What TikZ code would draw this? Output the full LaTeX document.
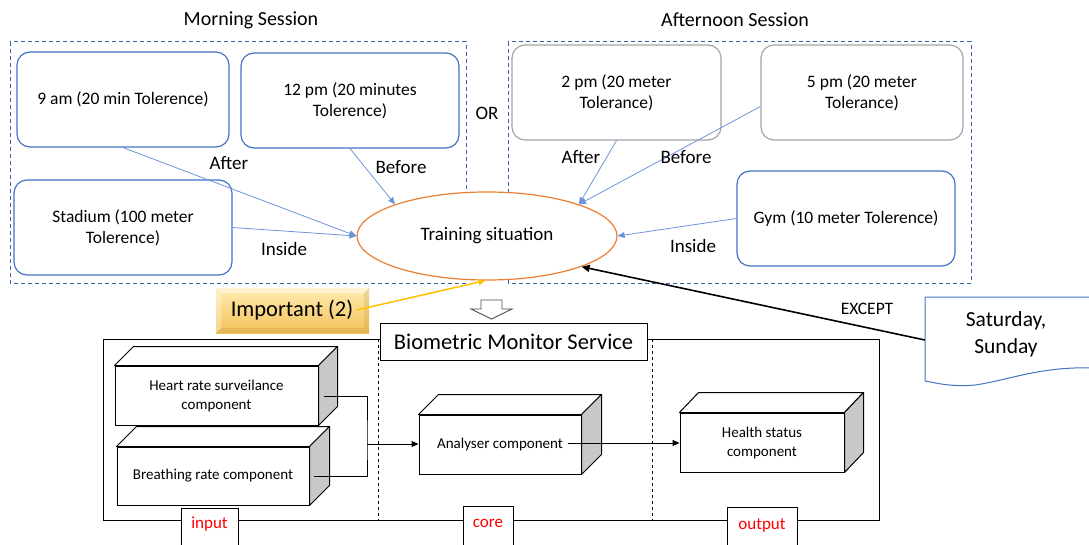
\documentclass[tikz,border=0pt]{standalone}
\usepackage{fontspec}
\setmainfont{Carlito}
\usetikzlibrary{arrows.meta,calc,shapes.geometric}
\definecolor{obl}{HTML}{4472C4}
\definecolor{lbl}{HTML}{6E95DA}
\definecolor{dbl}{HTML}{3A62A8}
\definecolor{ogr}{HTML}{A5A5A5}
\definecolor{oor}{HTML}{ED7D31}
\definecolor{ogold}{HTML}{FFC000}
\definecolor{imptop}{HTML}{FFEBB0}
\definecolor{impbot}{HTML}{F4C25A}
\definecolor{sidegray}{HTML}{C8C8C8}
\tikzset{
  fsTitle/.style={font=\fontsize{20}{24}\selectfont},
  fsBox/.style={font=\fontsize{17.5}{21}\selectfont},
  fsLbl/.style={font=\fontsize{19}{23}\selectfont},
  fsComp/.style={font=\fontsize{15}{19}\selectfont},
  fsBig/.style={font=\fontsize{22.5}{27}\selectfont},
  session/.style={draw=dbl, line width=1pt, dash pattern=on 4pt off 3pt},
  rbox/.style={draw=obl, line width=1.2pt, rounded corners=13pt, align=center, fsBox, inner sep=0pt},
  gbox/.style={draw=ogr, line width=1.2pt, rounded corners=13pt, align=center, fsBox, inner sep=0pt},
  barrow/.style={draw=lbl, line width=0.8pt, -{Triangle[length=7pt,width=6pt]}},
  front/.style={draw, line width=1pt, fill=white, align=center, fsComp, inner sep=0pt},
  face/.style={draw, line width=1pt, line join=round},
  karrow/.style={line width=1pt, -{Triangle[length=7pt,width=6pt]}},
  tagbox/.style={draw, line width=1pt, fill=white, inner sep=0pt},
  tagtext/.style={text=red, font=\fontsize{17}{20}\selectfont, inner sep=0pt}
}
\begin{document}
\begin{tikzpicture}[x=1pt,y=-1pt]
\useasboundingbox (0,0) rectangle (1089,545);
\fill[white] (0,0) rectangle (1089,545);

% session titles and frames
\node[fsTitle] (mt) at (251,20) {Morning Session};
\node[fsTitle] (at) at (735,20) {Afternoon Session};
\draw[session] (10,42) rectangle (466,283);
\draw[session] (508,42) rectangle (971,283);
\node[fsLbl] (or) at (487,113) {OR};

% morning boxes
\node[rbox, minimum width=212pt, minimum height=95pt] (am9) at (123,99.5) {9 am (20 min Tolerence)};
\node[rbox, minimum width=218pt, minimum height=95pt] (pm12) at (350,100.5) {12 pm (20 minutes\\Tolerence)};
\node[rbox, minimum width=218pt, minimum height=95pt] (st) at (123,227.5) {Stadium (100 meter\\Tolerence)};

% afternoon boxes
\node[gbox, minimum width=209pt, minimum height=95pt] (pm2) at (616.5,92.5) {2 pm (20 meter\\Tolerance)};
\node[gbox, minimum width=202pt, minimum height=95pt] (pm5) at (862,92.5) {5 pm (20 meter\\Tolerance)};
\node[rbox, minimum width=218pt, minimum height=95pt] (gym) at (846,218.5) {Gym (10 meter Tolerence)};

% training situation
\node[ellipse, draw=oor, fill=white, line width=1.2pt, minimum width=260pt, minimum height=88pt, inner sep=0pt, fsLbl] (ts) at (487,236) {Training situation};

% blue connectors
\draw[barrow] (am9.south) -- (ts.west);
\draw[barrow] (st.east) -- (ts.west);
\draw[barrow] (pm12.south) -- (ts.161);
\draw[barrow] (pm2.south) -- (ts.19);
\draw[barrow] ($(pm5.west)+(0,14)$) -- (ts.19);
\draw[barrow] (gym.west) -- (ts.east);

\node[fsLbl] (lafter1) at (229,163) {After};
\node[fsLbl] (lbefore1) at (401,167) {Before};
\node[fsLbl] (linside1) at (284,249) {Inside};
\node[fsLbl] (lafter2) at (581,157) {After};
\node[fsLbl] (lbefore2) at (686,157) {Before};
\node[fsLbl] (linside2) at (693,246) {Inside};

% Saturday, Sunday document shape
\node[minimum width=168pt, minimum height=86pt, inner sep=0pt] (sat) at (1009,340) {};
\draw[draw=obl, line width=1pt, fill=white] (925,297) -- (1095,297) -- (1095,368) .. controls (1040,366) and (1010,380) .. (975,385) .. controls (955,387) and (940,384) .. (925,381) -- cycle;
\node[align=center, font=\fontsize{21.5}{27}\selectfont] (satt) at (1006,334) {Saturday,\\Sunday};
\draw[line width=1.6pt, -{Triangle[length=8pt,width=7pt]}] (sat.west) -- (ts.-18);
\node[font=\fontsize{17.5}{21}\selectfont] (exc) at (867,309) {EXCEPT};

% Important (2)
\shade[top color=imptop, bottom color=impbot] (216,288) rectangle (369,333);
\fill[white, opacity=0.45] (216,288) -- (369,288) -- (364,293) -- (221,293) -- cycle;
\fill[impbot!80!black, opacity=0.35] (216,333) -- (369,333) -- (364,328) -- (221,328) -- cycle;
\fill[impbot!80!black, opacity=0.25] (369,288) -- (369,333) -- (364,328) -- (364,293) -- cycle;
\fill[white, opacity=0.3] (216,288) -- (216,333) -- (221,328) -- (221,293) -- cycle;
\node[fsBig] (imp) at (292,310) {Important (2)};
\draw[draw=ogold, line width=1.5pt, -{Triangle[length=7pt,width=6pt]}] (imp.east) -- (ts.-92);

% hollow down arrow
\draw[draw=black!70, line width=0.9pt, fill=white, line join=miter] (481,300) -- (502,300) -- (502,309) -- (512,309) -- (491.5,319) -- (471,309) -- (481,309) -- cycle;

% Biometric Monitor Service frame
\draw[line width=1pt] (103,339) rectangle (879,520);
\draw[line width=0.9pt, dashed] (378,339) -- (378,520);
\draw[line width=0.9pt, dashed] (652,339) -- (652,520);
\node[draw, line width=1pt, fill=white, minimum width=267pt, minimum height=37pt, inner sep=0pt, fsBig] (bms) at (513.5,341.5) {Biometric Monitor Service};

% 3D component boxes
\node[front, minimum width=203pt, minimum height=59pt] (hr) at (216.5,395.5) {Heart rate surveilance\\component};
\draw[face, fill=white] (hr.north west) -- ++(19,-19) -- ($(hr.north east)+(19,-19)$) -- (hr.north east) -- cycle;
\draw[face, fill=sidegray] (hr.north east) -- ++(19,-19) -- ($(hr.south east)+(19,-19)$) -- (hr.south east) -- cycle;

\node[front, minimum width=192pt, minimum height=58pt] (br) at (213,476) {Breathing rate component};
\draw[face, fill=white] (br.north west) -- ++(20,-20) -- ($(br.north east)+(20,-20)$) -- (br.north east) -- cycle;
\draw[face, fill=sidegray] (br.north east) -- ++(20,-20) -- ($(br.south east)+(20,-20)$) -- (br.south east) -- cycle;

\node[front, minimum width=162pt, minimum height=59pt] (an) at (500,444.5) {Analyser component};
\draw[face, fill=white] (an.north west) -- ++(20,-20) -- ($(an.north east)+(20,-20)$) -- (an.north east) -- cycle;
\draw[face, fill=sidegray] (an.north east) -- ++(20,-20) -- ($(an.south east)+(20,-20)$) -- (an.south east) -- cycle;

\node[front, minimum width=164pt, minimum height=59pt] (hs) at (762,442.5) {Health status\\component};
\draw[face, fill=white] (hs.north west) -- ++(19,-20) -- ($(hs.north east)+(19,-20)$) -- (hs.north east) -- cycle;
\draw[face, fill=sidegray] (hs.north east) -- ++(19,-20) -- ($(hs.south east)+(19,-20)$) -- (hs.south east) -- cycle;

% component connectors
\coordinate (jn) at (367,444);
\draw[line width=1pt] ($(hr.east)+(5,0.5)$) -| (jn) |- ($(br.east)+(4,0)$);
\draw[karrow] (jn) -- (jn -| an.west);
\draw[karrow] ($(an.center)+(68,-1.5)$) -- ($(hs.west)+(0,0.5)$);

% tags
\node[tagbox, minimum width=57pt, minimum height=45pt, anchor=north] (tin) at (209.5,508) {};
\node[tagtext] (tint) at (209.5,524) {input};
\node[tagbox, minimum width=50pt, minimum height=45pt, anchor=north] (tco) at (488,506) {};
\node[tagtext] (tcot) at (488,523) {core};
\node[tagbox, minimum width=70pt, minimum height=45pt, anchor=north] (tou) at (762,507) {};
\node[tagtext] (tout) at (762,525) {output};
\end{tikzpicture}
\end{document}
